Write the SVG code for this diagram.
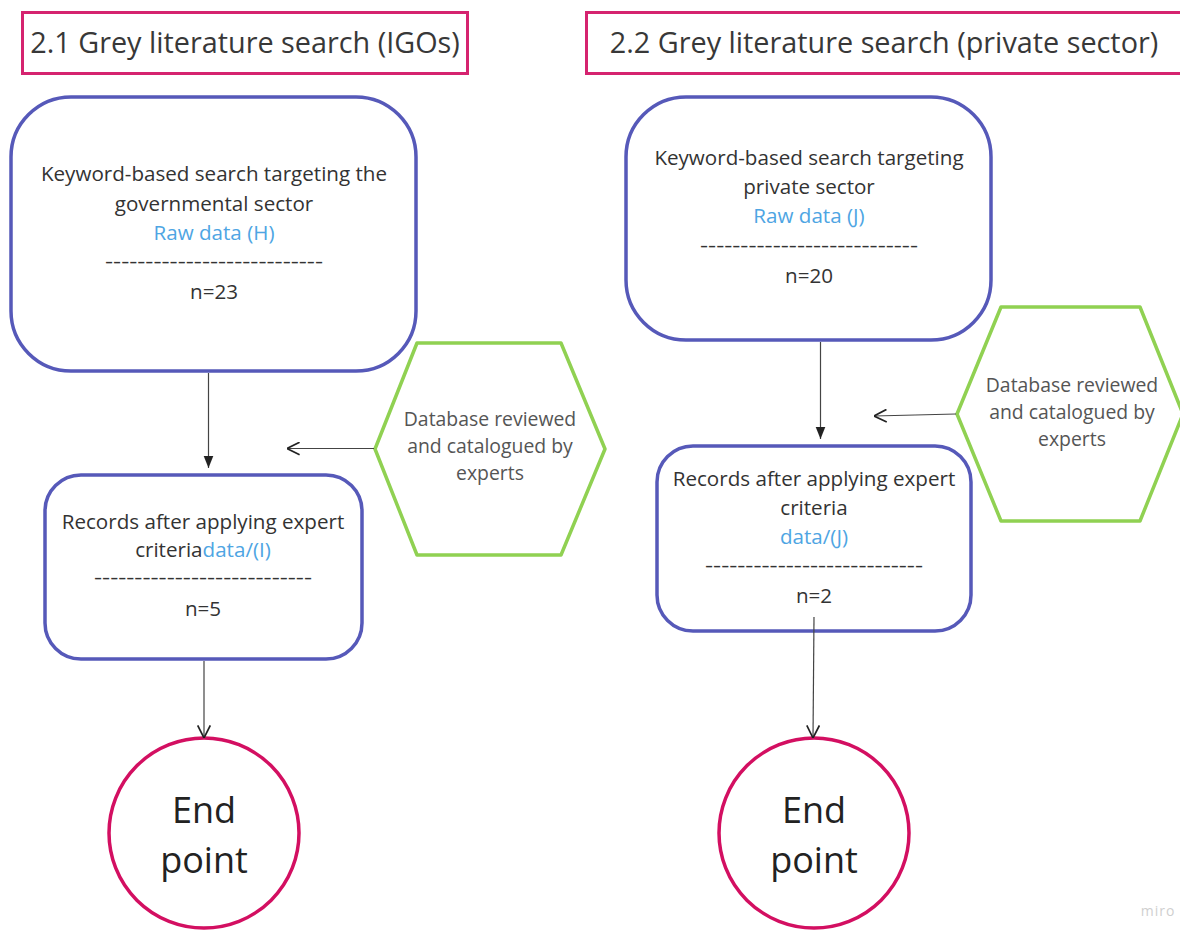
<svg xmlns="http://www.w3.org/2000/svg" width="1180" height="933" viewBox="0 0 1180 933">
<style>
  .hdr{fill:#fff;stroke:#d5236f;stroke-width:3}
  .box{fill:#fff;stroke:#5659b9;stroke-width:3.5}
  .hex{fill:#fff;stroke:#90d152;stroke-width:3.5;stroke-linejoin:round}
  .end{fill:#fff;stroke:#d30f61;stroke-width:3.5}
  text{font-family:"Open Sans","Liberation Sans",sans-serif;text-anchor:middle}
  .t{font-size:20.6px;fill:#333}
  .g{font-size:19.4px;fill:#555}
  .b{fill:#4ea5e3}
  .h{font-size:28.8px;fill:#383838}
  .e{font-size:36px;fill:#222}
  .c{stroke:#444;stroke-width:1.2;fill:none}
</style>
<defs>
  <marker id="fa" viewBox="0 0 10 10" refX="10" refY="5" markerWidth="12" markerHeight="12" markerUnits="userSpaceOnUse" orient="auto">
    <path d="M0,1 L10,5 L0,9 Z" fill="#222"/>
  </marker>
  <marker id="oa" viewBox="0 0 10 10" refX="10" refY="5" markerWidth="14" markerHeight="14" markerUnits="userSpaceOnUse" orient="auto">
    <path d="M1,0.5 L10,5 L1,9.5" fill="none" stroke="#222" stroke-width="1.2"/>
  </marker>
</defs>
<rect width="1180" height="933" fill="#fff"/>

<g id="header1">
  <rect class="hdr" x="22.5" y="12.5" width="445" height="61"/>
  <text class="h" x="245" y="53">2.1 Grey literature search (IGOs)</text>
</g>
<g id="header2">
  <rect class="hdr" x="586.5" y="12.5" width="600" height="61"/>
  <text class="h" x="884" y="53">2.2 Grey literature search (private sector)</text>
</g>

<g id="search1">
  <rect class="box" x="11" y="97" width="405" height="274" rx="60"/>
  <text class="t" x="214" y="181">Keyword-based search targeting the</text>
  <text class="t" x="214" y="211">governmental sector</text>
  <text class="t b" x="214" y="240">Raw data (H)</text>
  <text class="t" x="214" y="268" textLength="218" lengthAdjust="spacingAndGlyphs">---------------------------</text>
  <text class="t" x="214" y="299">n=23</text>
</g>

<g id="hex1">
  <polygon class="hex" points="375,449 417,343 561,343 605,449 561,555 417,555"/>
  <text class="g" x="490" y="426">Database reviewed</text>
  <text class="g" x="490" y="453">and catalogued by</text>
  <text class="g" x="490" y="480">experts</text>
</g>

<g id="records1">
  <rect class="box" x="45" y="475" width="317" height="184" rx="36"/>
  <text class="t" x="203" y="529">Records after applying expert</text>
  <text class="t" x="203" y="557">criteria<tspan class="b">data/(I)</tspan></text>
  <text class="t" x="203" y="584" textLength="218" lengthAdjust="spacingAndGlyphs">---------------------------</text>
  <text class="t" x="203" y="616">n=5</text>
</g>

<g id="end1">
  <circle class="end" cx="204" cy="833" r="95"/>
  <text class="e" x="204" y="823">End</text>
  <text class="e" x="204" y="873">point</text>
</g>

<g id="search2">
  <rect class="box" x="626" y="97" width="365" height="243" rx="60"/>
  <text class="t" x="809" y="165">Keyword-based search targeting</text>
  <text class="t" x="809" y="194">private sector</text>
  <text class="t b" x="809" y="223">Raw data (J)</text>
  <text class="t" x="809" y="252" textLength="218" lengthAdjust="spacingAndGlyphs">---------------------------</text>
  <text class="t" x="809" y="283">n=20</text>
</g>

<g id="hex2">
  <polygon class="hex" points="957,414 1001,307 1140,307 1183,414 1140,521 1001,521"/>
  <text class="g" x="1072" y="392">Database reviewed</text>
  <text class="g" x="1072" y="419">and catalogued by</text>
  <text class="g" x="1072" y="446">experts</text>
</g>

<g id="records2">
  <rect class="box" x="657" y="446" width="314" height="185" rx="36"/>
  <text class="t" x="814" y="486">Records after applying expert</text>
  <text class="t" x="814" y="515">criteria</text>
  <text class="t b" x="814" y="544">data/(J)</text>
  <text class="t" x="814" y="572" textLength="218" lengthAdjust="spacingAndGlyphs">---------------------------</text>
  <text class="t" x="814" y="603">n=2</text>
</g>

<g id="end2">
  <circle class="end" cx="814" cy="833" r="95"/>
  <text class="e" x="814" y="823">End</text>
  <text class="e" x="814" y="873">point</text>
</g>

<g id="connectors">
  <line class="c" x1="208.5" y1="373" x2="208.5" y2="468" marker-end="url(#fa)"/>
  <line class="c" x1="374" y1="448.5" x2="287" y2="448.5" marker-end="url(#oa)"/>
  <line class="c" x1="204" y1="661" x2="204" y2="738" marker-end="url(#oa)"/>
  <line class="c" x1="820.5" y1="342" x2="820.5" y2="439" marker-end="url(#fa)"/>
  <line class="c" x1="956" y1="414" x2="874" y2="416" marker-end="url(#oa)"/>
  <line class="c" x1="814" y1="617" x2="813" y2="738" marker-end="url(#oa)"/>
</g>

<text x="1158" y="916" style="font-size:14px;fill:#cfcfcf;letter-spacing:1px">miro</text>
</svg>
